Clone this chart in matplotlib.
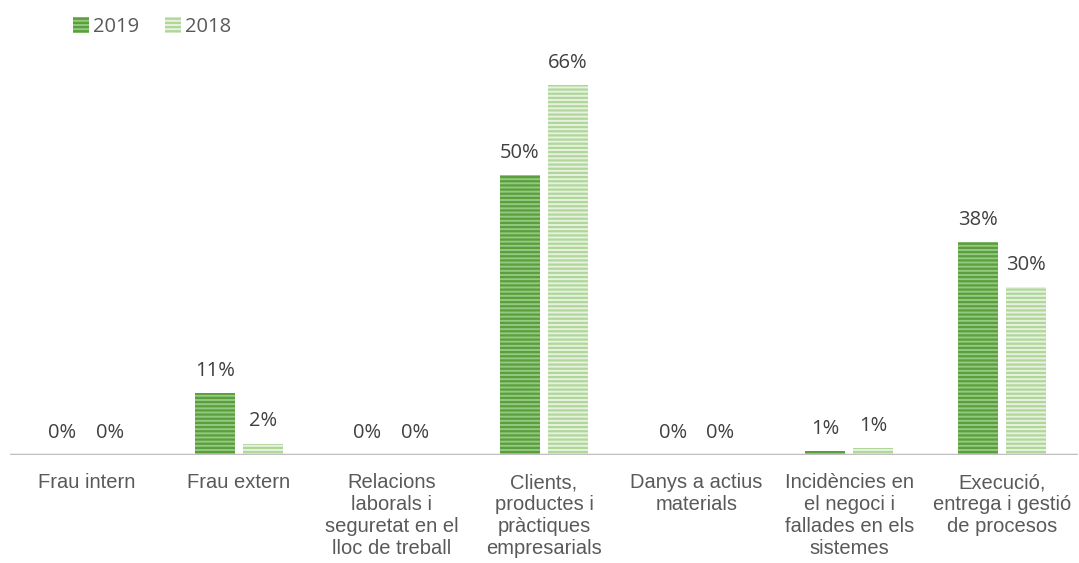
import numpy as np
import matplotlib.pyplot as plt

categories = [
    "Frau intern",
    "Frau extern",
    "Relacions\nlaborals i\nseguretat en el\nlloc de treball",
    "Clients,\nproductes i\npràctiques\nempresarials",
    "Danys a actius\nmaterials",
    "Incidències en\nel negoci i\nfallades en els\nsistemes",
    "Execució,\nentrega i gestió\nde procesos",
]
vals_2019 = [0.0, 0.11, 0.0, 0.50, 0.0, 0.007, 0.38]
vals_2018 = [0.0, 0.02, 0.0, 0.66, 0.0, 0.012, 0.30]
labels_2019 = ["0%", "11%", "0%", "50%", "0%", "1%", "38%"]
labels_2018 = ["0%", "2%", "0%", "66%", "0%", "1%", "30%"]

plt.rcParams["font.family"] = ["Open Sans", "DejaVu Sans"]
plt.rcParams["hatch.linewidth"] = 1.6
text_color = "#404040"

fig = plt.figure(figsize=(10.79, 5.63), dpi=100)
ax = fig.add_axes([10 / 1079, 1 - 455 / 563, 1068 / 1079, 392 / 563])

x = np.arange(len(categories))
w = 0.26
off = 0.157

b1 = ax.bar(x - off, vals_2019, w, facecolor="#93c980", edgecolor="#5b9e3c",
            linewidth=0, hatch="----", label="2019")
b2 = ax.bar(x + off, vals_2018, w, facecolor="#e6f2df", edgecolor="#b0d69a",
            linewidth=0, hatch="----", label="2018")

# value labels above each bar
for xi, v, lab in zip(x - off, vals_2019, labels_2019):
    ax.text(xi, v + 0.022, lab, ha="center", va="bottom", fontsize=14.5, color=text_color)
for xi, v, lab in zip(x + off, vals_2018, labels_2018):
    ax.text(xi, v + 0.022, lab, ha="center", va="bottom", fontsize=14.5, color=text_color)

ax.set_xlim(-0.5, len(categories) - 0.5)
ax.set_ylim(0, 0.70)
ax.axhline(0, color="#bfbfbf", linewidth=2.5, zorder=3)

ax.set_xticks(x)
ax.set_xticklabels(categories, fontsize=14.5, color="#595959", linespacing=1.2,
                   family=["Liberation Sans", "DejaVu Sans"])
ax.tick_params(axis="x", length=0, pad=13)
ax.set_yticks([])
for s in ax.spines.values():
    s.set_visible(False)

fig.legend(handles=[b1, b2], loc="upper left", bbox_to_anchor=(0.051, 1.002),
           ncol=2, frameon=False, fontsize=14.5, handlelength=0.8, handleheight=0.8,
           columnspacing=1.25, handletextpad=0.2, labelcolor="#595959")

fig.savefig("out.png", dpi=100)
